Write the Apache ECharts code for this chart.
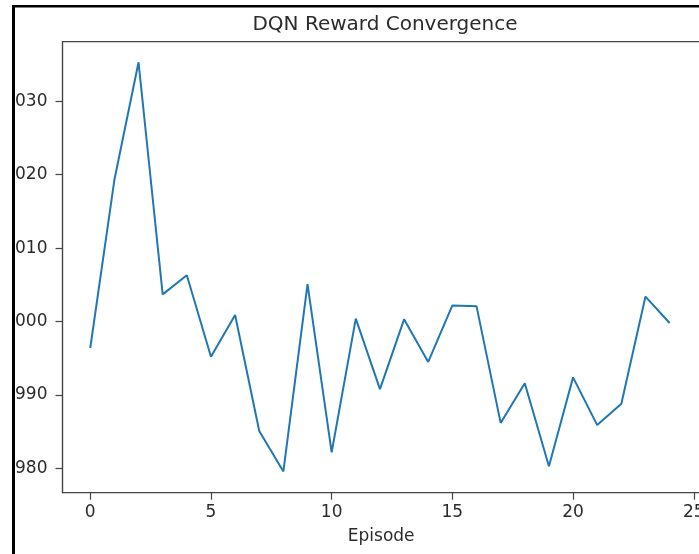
<!DOCTYPE html>
<html>
<head>
<meta charset="utf-8">
<script src="https://cdn.jsdelivr.net/npm/echarts@6/dist/echarts.min.js"></script>
<style>
  html, body { margin: 0; padding: 0; background: #ffffff; }
  #chart { width: 699px; height: 554px; }
</style>
</head>
<body>
<div id="chart"></div>
<script>
// Episode index and the reward reached in each episode
const episodes = [0, 1, 2, 3, 4, 5, 6, 7, 8, 9, 10, 11, 12, 13, 14, 15, 16, 17, 18, 19, 20, 21, 22, 23, 24];
const rewards = [996.4, 1019.3, 1035.3, 1003.7, 1006.3, 995.2, 1000.9, 985.1, 979.6, 1005.1,
                 982.2, 1000.4, 990.8, 1000.3, 994.5, 1002.2, 1002.1, 986.2, 991.6, 980.3,
                 992.4, 985.9, 988.8, 1003.4, 999.8];
const xTicks = [0, 5, 10, 15, 20, 25];
const yTicks = [980, 990, 1000, 1010, 1020, 1030];

const FONT = 'DejaVu Sans';
const INK = '#2b2b2b';
const SPINE = '#444444';

const chart = echarts.init(document.getElementById('chart'), null, { renderer: 'canvas' });

chart.setOption({
  animation: false,
  backgroundColor: '#ffffff',
  title: {
    text: 'DQN Reward Convergence',
    left: 380,
    textAlign: 'center',
    top: 10,
    textStyle: { fontFamily: FONT, fontSize: 20, fontWeight: 'normal', color: INK }
  },
  grid: {
    left: 62.5,
    top: 41.7,
    width: 637.3,
    height: 451,
    show: true,
    borderColor: SPINE,
    borderWidth: 1.2,
    containLabel: false,
    outerBoundsMode: 'none'
  },
  xAxis: {
    type: 'value',
    min: -1.15,
    max: 25.25,
    name: 'Episode',
    nameLocation: 'middle',
    nameGap: 35,
    nameTextStyle: { fontFamily: FONT, fontSize: 17, color: INK },
    axisLine: { show: true, onZero: false, lineStyle: { color: SPINE, width: 1.2 } },
    axisTick: { show: true, length: 7, customValues: xTicks, lineStyle: { color: SPINE, width: 1.2 } },
    axisLabel: { customValues: xTicks, margin: 11, fontFamily: FONT, fontSize: 17, color: INK,
                 formatter: v => String(v) },
    splitLine: { show: false }
  },
  yAxis: {
    type: 'value',
    min: 976.7,
    max: 1038.1,
    axisLine: { show: true, onZero: false, lineStyle: { color: SPINE, width: 1.2 } },
    axisTick: { show: true, length: 7, customValues: yTicks, lineStyle: { color: SPINE, width: 1.2 } },
    axisLabel: { customValues: yTicks, margin: 15, fontFamily: FONT, fontSize: 17, color: INK,
                 formatter: v => String(v) },
    splitLine: { show: false }
  },
  series: [{
    type: 'line',
    data: episodes.map((e, i) => [e, rewards[i]]),
    symbol: 'none',
    lineStyle: { color: '#1f77b4', width: 2 },
    z: 3
  }],
  graphic: [
    // white margin and black frame around the figure
    { type: 'rect', z: 100, shape: { x: 0, y: 0, width: 12, height: 554 }, style: { fill: '#ffffff' } },
    { type: 'rect', z: 100, shape: { x: 0, y: 0, width: 699, height: 5 }, style: { fill: '#ffffff' } },
    { type: 'rect', z: 101, shape: { x: 12, y: 5, width: 3, height: 549 }, style: { fill: '#000000' } },
    { type: 'rect', z: 101, shape: { x: 12, y: 5, width: 687, height: 2.5 }, style: { fill: '#000000' } }
  ]
});
</script>
</body>
</html>
